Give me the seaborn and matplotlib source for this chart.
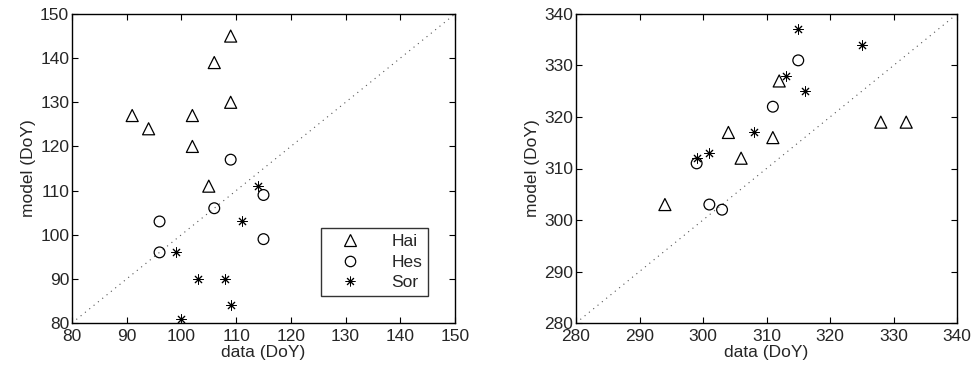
import matplotlib
matplotlib.use("Agg")
import matplotlib.pyplot as plt
import seaborn as sns
import pandas as pd
from matplotlib.lines import Line2D

sns.set_style("white")
plt.rcParams['font.family'] = ['Liberation Sans', 'DejaVu Sans']

# Spring panel (left)
spr_hai_x = [91, 94, 102, 102, 105, 106, 109, 109]
spr_hai_y = [127, 124, 127, 120, 111, 139, 145, 130]
spr_hes_x = [96, 96, 106, 109, 115, 115]
spr_hes_y = [103, 96, 106, 117, 109, 99]
spr_sor_x = [99, 100, 103, 108, 109, 111, 114]
spr_sor_y = [96, 81, 90, 90, 84, 103, 111]

# Autumn panel (right)
aut_hai_x = [294, 304, 306, 311, 312, 328, 332]
aut_hai_y = [303, 317, 312, 316, 327, 319, 319]
aut_hes_x = [299, 301, 303, 311, 315]
aut_hes_y = [311, 303, 302, 322, 331]
aut_sor_x = [299, 301, 308, 313, 315, 316, 325]
aut_sor_y = [312, 313, 317, 328, 337, 325, 334]

sites = ["Hai", "Hes", "Sor"]
left_lim = (80, 150)
right_lim = (280, 340)

markers = {"Hai": "^", "Hes": "o", "Sor": (8, 2, 0)}
sizes = {"Hai": 75, "Hes": 60, "Sor": 45}
FS = 12.5


def make_df(xs, ys):
    rows = []
    for s, x, y in zip(sites, xs, ys):
        for a, b in zip(x, y):
            rows.append({"data": a, "model": b, "site": s})
    return pd.DataFrame(rows)


df_l = make_df([spr_hai_x, spr_hes_x, spr_sor_x], [spr_hai_y, spr_hes_y, spr_sor_y])
df_r = make_df([aut_hai_x, aut_hes_x, aut_sor_x], [aut_hai_y, aut_hes_y, aut_sor_y])

fig = plt.figure(figsize=(9.75, 3.75), dpi=100)
W, H = 975, 375
ax1 = fig.add_axes([72 / W, 1 - 323 / H, (455 - 72) / W, (323 - 14) / H])
ax2 = fig.add_axes([576 / W, 1 - 323 / H, (957 - 576) / W, (323 - 14) / H])


def draw(ax, df, lim):
    ax.plot(lim, lim, linestyle=(0, (1, 4)), color="#555555", linewidth=0.8, zorder=1)
    for s in sites:
        sub = df[df.site == s]
        if s == "Sor":
            sns.scatterplot(data=sub, x="data", y="model", marker=markers[s], s=sizes[s],
                            color="black", linewidth=0.7, ax=ax, legend=False, zorder=3)
        else:
            sns.scatterplot(data=sub, x="data", y="model", marker=markers[s], s=sizes[s],
                            facecolor="none", edgecolor="black", linewidth=0.9, ax=ax,
                            legend=False, zorder=3)
    ax.set_xlim(lim)
    ax.set_ylim(lim)
    ticks = list(range(lim[0], lim[1] + 1, 10))
    ax.set_xticks(ticks)
    ax.set_yticks(ticks)
    ax.set_xlabel("data (DoY)", fontsize=FS, labelpad=1)
    ax.set_ylabel("model (DoY)", fontsize=FS, labelpad=3)
    ax.tick_params(direction="in", length=4, width=0.8, top=True, right=True,
                   bottom=True, left=True, labelsize=FS, color="black")
    ax.tick_params(axis="x", pad=4)
    ax.tick_params(axis="y", pad=2)
    for sp in ax.spines.values():
        sp.set_visible(True)
        sp.set_color("black")
        sp.set_linewidth(1.0)


draw(ax1, df_l, left_lim)
draw(ax2, df_r, right_lim)

handles = [
    Line2D([], [], linestyle="none", marker="^", markerfacecolor="none", markeredgecolor="black",
           markersize=8.5, markeredgewidth=0.9),
    Line2D([], [], linestyle="none", marker="o", markerfacecolor="none", markeredgecolor="black",
           markersize=7.5, markeredgewidth=0.9),
    Line2D([], [], linestyle="none", marker=(8, 2, 0), color="black",
           markersize=7, markeredgewidth=0.7),
]
leg = ax1.legend(handles, sites, loc="lower right", bbox_to_anchor=(0.93, 0.087),
                 frameon=True, fancybox=False, fontsize=FS, handletextpad=1.1,
                 borderpad=0.35, labelspacing=0.3, handlelength=2.6, borderaxespad=0)
leg.get_frame().set_edgecolor("black")
leg.get_frame().set_linewidth(1.0)

fig.savefig("out.png", dpi=100)
